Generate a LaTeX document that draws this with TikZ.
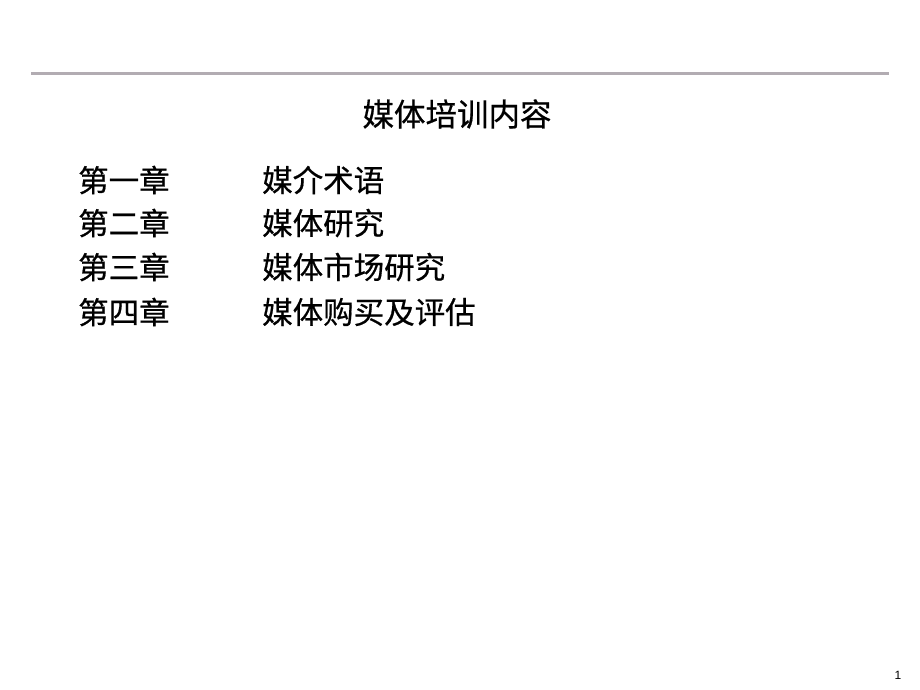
\documentclass[tikz,border=0pt]{standalone}
\usepackage{fontspec}
\newfontfamily\cjk[FakeBold=0.6]{Noto Sans CJK SC}
\setmainfont{Liberation Sans}
\begin{document}
\begin{tikzpicture}[x=1pt,y=-1pt,
  rule/.style={draw={rgb,255:red,178;green,172;blue,178},line width=3pt},
  title/.style={font=\cjk\fontsize{31.5}{31.5}\selectfont,inner sep=0pt},
  item/.style={font=\cjk\fontsize{30.5}{30.5}\selectfont,inner sep=0pt,anchor=west},
  pnum/.style={font=\fontsize{12}{12}\selectfont,inner sep=0pt}]
\useasboundingbox (0,0) rectangle (920,690);
\coordinate (l1) at (31,74);
\coordinate (l2) at (889,74);
\draw[rule] (l1) -- (l2);
\node[title] (t) at (457,114) {媒体培训内容};
\node[item] (c1) at (78,180) {第一章};
\node[item] (c2) at (78,223) {第二章};
\node[item] (c3) at (78,267) {第三章};
\node[item] (c4) at (78,312) {第四章};
\node[item] (d1) at (262,180) {媒介术语};
\node[item] (d2) at (262,223) {媒体研究};
\node[item] (d3) at (262,267) {媒体市场研究};
\node[item] (d4) at (262,312) {媒体购买及评估};
\node[pnum] (p) at (898,675) {1};
\end{tikzpicture}
\end{document}
